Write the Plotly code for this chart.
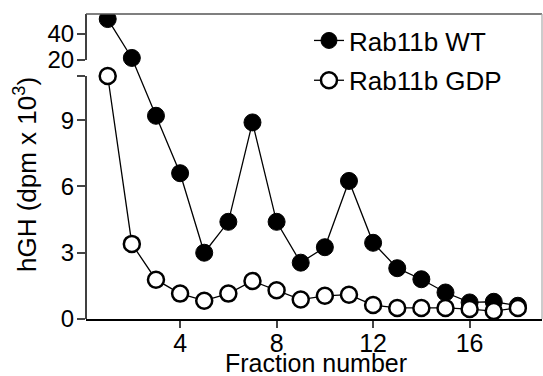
import plotly.graph_objects as go

# ---- data ----
fractions = list(range(1, 19))
wt_values = [51.5, 21.5, 9.2, 6.6, 3.0, 4.4, 8.9, 4.4, 2.55, 3.25, 6.25, 3.45, 2.3, 1.8, 1.2, 0.75, 0.78, 0.6]
gdp_values = [11.0, 3.4, 1.78, 1.15, 0.83, 1.15, 1.72, 1.3, 0.88, 1.05, 1.1, 0.63, 0.5, 0.5, 0.5, 0.45, 0.36, 0.5]
lower_ticks = [0, 3, 6, 9]
upper_ticks = [20, 40]
x_ticks = [4, 8, 12, 16]
series_names = ["Rab11b WT", "Rab11b GDP"]

# ---- broken y-axis mapping (lower part linear 0..11, upper part compressed 20..) ----
BREAK_LOW = 11.0
BREAK_HIGH = 20.0
GAP = 0.73
UPPER_SCALE = 0.0587
UPPER_MAX = 55.4


def to_axis(v):
    if v <= BREAK_LOW:
        return v
    return BREAK_LOW + GAP + (v - BREAK_HIGH) * UPPER_SCALE


FONT = "Liberation Sans, Arial, Helvetica, sans-serif"

fig = go.Figure()
fig.add_trace(go.Scatter(
    x=fractions, y=[to_axis(v) for v in wt_values], name=series_names[0],
    mode="lines+markers", customdata=wt_values,
    line=dict(color="black", width=1.3),
    marker=dict(symbol="circle", size=17, color="black", line=dict(color="black", width=1)),
    legendgroup="a",
))
fig.add_trace(go.Scatter(
    x=fractions, y=[to_axis(v) for v in gdp_values], name=series_names[1],
    mode="lines+markers", customdata=gdp_values,
    line=dict(color="black", width=1.3),
    marker=dict(symbol="circle", size=16, color="white", line=dict(color="black", width=2.5)),
    legendgroup="b",
))

tickvals = [to_axis(v) for v in lower_ticks] + [BREAK_LOW] + [to_axis(v) for v in upper_ticks]
ticktext = [str(v) for v in lower_ticks] + [""] + [str(v) for v in upper_ticks]

fig.update_layout(
    width=543, height=376,
    margin=dict(l=86, r=1, t=14, b=57),
    paper_bgcolor="white", plot_bgcolor="white",
    font=dict(family=FONT, color="black", size=25),
    showlegend=True,
    legend=dict(x=0.489, y=0.99, xanchor="left", yanchor="top",
                font=dict(size=26, family=FONT), bgcolor="rgba(0,0,0,0)",
                traceorder="grouped", tracegroupgap=3, itemwidth=30),
    xaxis=dict(range=[0.1, 19.0], tickvals=x_ticks, ticks="outside", ticklen=7,
               tickwidth=1.5, showline=True, linecolor="black", linewidth=1.5,
               showgrid=False, zeroline=False, ticklabelstandoff=-6,
               tickfont=dict(size=25)),
    yaxis=dict(range=[0, to_axis(UPPER_MAX)], tickvals=tickvals, ticktext=ticktext,
               ticks="outside", ticklen=8, tickwidth=1.5, showline=False,
               showgrid=False, zeroline=False, ticklabelstandoff=-2,
               tickfont=dict(size=24)),
    shapes=[
        dict(type="line", xref="paper", yref="y", x0=0, x1=0, y0=0, y1=BREAK_LOW,
             line=dict(color="black", width=1.5)),
        dict(type="line", xref="paper", yref="y", x0=0, x1=0, y0=to_axis(BREAK_HIGH),
             y1=to_axis(UPPER_MAX), line=dict(color="black", width=1.5)),
        dict(type="line", xref="paper", yref="paper", x0=0, x1=1, y0=1, y1=1,
             line=dict(color="#555555", width=1.5)),
        dict(type="line", xref="paper", yref="paper", x0=1, x1=1, y0=0, y1=1,
             line=dict(color="#aaaaaa", width=1.2)),
    ],
    annotations=[
        dict(text="hGH (dpm x 10<sup>3</sup>)", xref="paper", yref="paper",
             x=-0.134, y=0.475, xanchor="center", yanchor="middle",
             textangle=-90, showarrow=False, font=dict(size=26, family=FONT)),
        dict(text="Fraction number", xref="paper", yref="paper",
             x=0.504, y=-0.144, xanchor="center", yanchor="middle",
             showarrow=False, font=dict(size=25, family=FONT)),
    ],
)

fig.write_html(
    "out.html",
    config={"displayModeBar": False},
    post_script="document.body.style.margin='0';document.body.style.overflow='hidden';",
)
